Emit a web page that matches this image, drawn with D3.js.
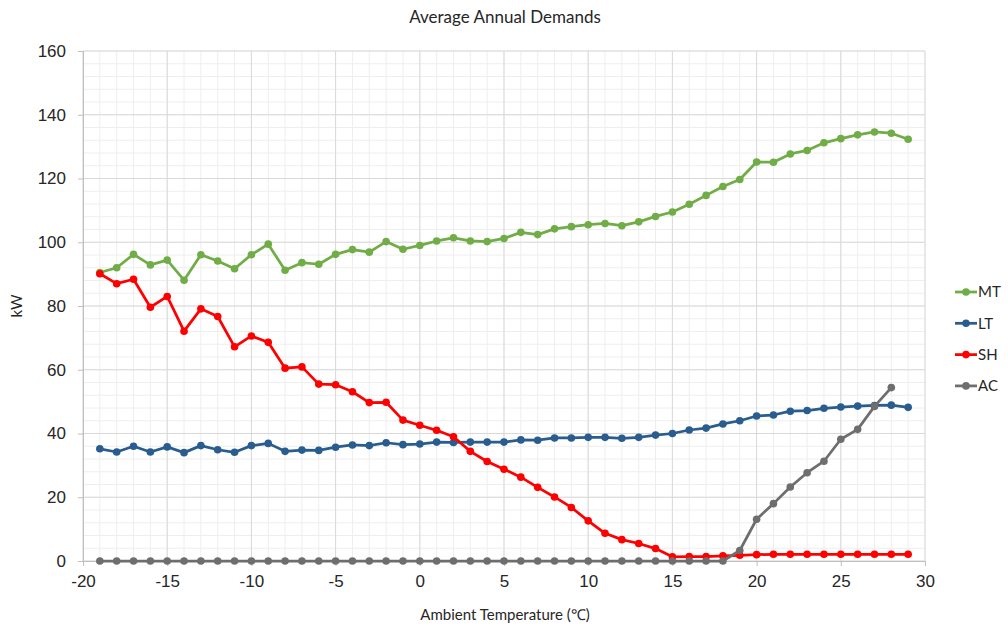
<!DOCTYPE html>
<html>
<head>
<meta charset="utf-8">
<script src="https://cdn.jsdelivr.net/npm/d3@7"></script>
<style>
  body { margin: 0; background: #fff; }
  svg { font-family: Lato, "Open Sans", sans-serif; }
</style>
</head>
<body>
<svg id="chart"></svg>
<script>
// temperatures (x)
const tempsMain = d3.range(-19, 30); // -19 .. 29
const tempsAC = d3.range(-19, 29); // -19 .. 28

// series values (kW)
const mtValues = [90.5, 92.0, 96.2, 92.9, 94.4, 88.1, 96.1, 94.1, 91.7, 96.1,
  99.4, 91.2, 93.6, 93.1, 96.2, 97.7, 96.9, 100.2, 97.8, 99.0,
  100.4, 101.4, 100.4, 100.2, 101.2, 103.1, 102.4, 104.2, 104.9, 105.5,
  105.9, 105.2, 106.4, 108.1, 109.5, 111.9, 114.7, 117.5, 119.7, 125.2,
  125.1, 127.7, 128.8, 131.2, 132.5, 133.7, 134.6, 134.2, 132.3];
const ltValues = [35.2, 34.2, 36.0, 34.2, 35.8, 34.0, 36.2, 34.9, 34.1, 36.2,
  36.9, 34.4, 34.8, 34.7, 35.7, 36.4, 36.2, 37.1, 36.5, 36.7,
  37.3, 37.2, 37.3, 37.3, 37.3, 38.0, 37.9, 38.6, 38.6, 38.8,
  38.8, 38.5, 38.8, 39.5, 40.0, 41.1, 41.7, 43.0, 44.0, 45.5,
  45.8, 47.0, 47.2, 47.9, 48.3, 48.6, 48.8, 48.9, 48.2];
const shValues = [90.1, 87.0, 88.4, 79.6, 83.0, 72.1, 79.1, 76.7, 67.2, 70.6,
  68.6, 60.5, 60.9, 55.5, 55.3, 53.1, 49.7, 49.8, 44.2, 42.6,
  41.0, 39.0, 34.4, 31.2, 28.8, 26.3, 23.1, 20.1, 16.8, 12.6,
  8.7, 6.7, 5.5, 3.9, 1.3, 1.4, 1.4, 1.6, 1.8, 2.0,
  2.1, 2.1, 2.1, 2.1, 2.1, 2.1, 2.1, 2.1, 2.1];
const acValues = [0, 0, 0, 0, 0, 0, 0, 0, 0, 0,
  0, 0, 0, 0, 0, 0, 0, 0, 0, 0,
  0, 0, 0, 0, 0, 0, 0, 0, 0, 0,
  0, 0, 0, 0, 0, 0, 0, 0, 3.3, 13.1,
  18.0, 23.2, 27.7, 31.3, 38.2, 41.3, 48.5, 54.4];

const seriesNames = ["MT", "LT", "SH", "AC"];
const seriesColors = ["#70ad47", "#2a5d8f", "#ff0000", "#6e6e6e"];

const xTicks = d3.range(-20, 31, 5);
const yTicks = d3.range(0, 161, 20);

const series = [
  { name: "MT", xs: tempsMain, ys: mtValues },
  { name: "LT", xs: tempsMain, ys: ltValues },
  { name: "SH", xs: tempsMain, ys: shValues },
  { name: "AC", xs: tempsAC, ys: acValues },
].map((s, i) => ({
  name: s.name,
  color: seriesColors[i],
  points: s.xs.map((t, j) => ({ t: t, v: s.ys[j] })),
}));

const svgWidth = 1008, svgHeight = 628;
const margin = { top: 51, right: 83, bottom: 67, left: 83 };
const width = svgWidth - margin.left - margin.right;
const height = svgHeight - margin.top - margin.bottom;

const svg = d3.select("#chart").attr("width", svgWidth).attr("height", svgHeight);
const g = svg.append("g")
  .attr("transform", "translate(" + margin.left + "," + margin.top + ")");

const x = d3.scaleLinear().domain([-20, 30]).range([0, width]);
const y = d3.scaleLinear().domain([0, 160]).range([height, 0]);

// minor grid
g.append("g")
  .selectAll("line.mx")
  .data(d3.range(-20, 31, 1))
  .join("line")
  .attr("x1", (d) => x(d)).attr("x2", (d) => x(d))
  .attr("y1", 0).attr("y2", height)
  .attr("stroke", "#eeeeee").attr("stroke-width", 1);
g.append("g")
  .selectAll("line.my")
  .data(d3.range(0, 161, 4))
  .join("line")
  .attr("x1", 0).attr("x2", width)
  .attr("y1", (d) => y(d)).attr("y2", (d) => y(d))
  .attr("stroke", "#eeeeee").attr("stroke-width", 1);

// major grid
g.append("g")
  .selectAll("line")
  .data(xTicks)
  .join("line")
  .attr("x1", (d) => x(d)).attr("x2", (d) => x(d))
  .attr("y1", 0).attr("y2", height)
  .attr("stroke", "#d9d9d9").attr("stroke-width", 1);
g.append("g")
  .selectAll("line")
  .data(yTicks)
  .join("line")
  .attr("x1", 0).attr("x2", width)
  .attr("y1", (d) => y(d)).attr("y2", (d) => y(d))
  .attr("stroke", "#d9d9d9").attr("stroke-width", 1);

// axes (plain hyphen for negatives, like the original)
const fmt = (d) => String(d);
const xAxis = g.append("g")
  .attr("transform", "translate(0," + height + ")")
  .call(d3.axisBottom(x).tickValues(xTicks).tickFormat(fmt).tickSize(5).tickPadding(9));
const yAxis = g.append("g")
  .call(d3.axisLeft(y).tickValues(yTicks).tickFormat(fmt).tickSize(5).tickPadding(12));
[xAxis, yAxis].forEach((a) => {
  a.selectAll("path, line").attr("stroke", "#bfbfbf");
  a.selectAll("text").attr("fill", "#262626").style("font-size", "17px");
});

// lines and markers
const line = d3.line().x((d) => x(d.t)).y((d) => y(d.v));
series.forEach((s) => {
  g.append("path")
    .datum(s.points)
    .attr("fill", "none")
    .attr("stroke", s.color)
    .attr("stroke-width", 2.75)
    .attr("stroke-linejoin", "round")
    .attr("d", line);
  g.append("g")
    .selectAll("circle")
    .data(s.points)
    .join("circle")
    .attr("cx", (d) => x(d.t))
    .attr("cy", (d) => y(d.v))
    .attr("r", 3.8)
    .attr("fill", s.color);
});

// titles
svg.append("text")
  .attr("x", 505).attr("y", 23)
  .attr("text-anchor", "middle")
  .attr("fill", "#262626")
  .style("font-size", "17px")
  .text("Average Annual Demands");
svg.append("text")
  .attr("x", 505).attr("y", 620)
  .attr("text-anchor", "middle")
  .attr("fill", "#262626")
  .style("font-size", "15px")
  .text("Ambient Temperature (℃)");
svg.append("text")
  .attr("transform", "translate(22," + (margin.top + height / 2) + ") rotate(-90)")
  .attr("text-anchor", "middle")
  .attr("fill", "#262626")
  .style("font-size", "15px")
  .text("kW");

// legend
const legend = svg.append("g").attr("transform", "translate(955,292)");
series.forEach((s, i) => {
  const row = legend.append("g").attr("transform", "translate(0," + i * 31.3 + ")");
  row.append("line")
    .attr("x1", 0).attr("x2", 22)
    .attr("stroke", s.color).attr("stroke-width", 2.75);
  row.append("circle").attr("cx", 11).attr("r", 3.8).attr("fill", s.color);
  row.append("text")
    .attr("x", 23).attr("dy", "0.36em")
    .attr("fill", "#262626")
    .style("font-size", "15px")
    .text(s.name);
});
</script>
</body>
</html>
